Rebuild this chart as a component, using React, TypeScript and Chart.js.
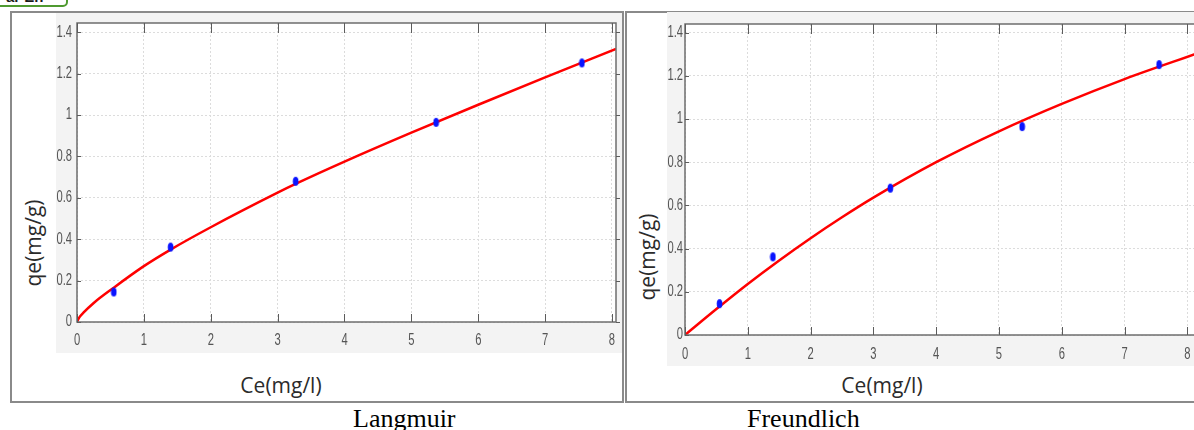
import React, { useEffect, useRef } from 'react';
import { Chart, registerables } from 'chart.js';

Chart.register(...registerables);

// ---- data ----
const ceMeasured = [0.55, 1.4, 3.27, 5.37, 7.55];
const qeMeasured = [0.145, 0.362, 0.68, 0.965, 1.252];

const langmuirFitCe = [0, 0.03, 0.1, 0.25, 0.55, 1, 1.4, 2, 3, 3.3, 4, 5, 6, 7, 8.06];
const langmuirFitQe = [0, 0.02, 0.046, 0.092, 0.166, 0.27, 0.35, 0.458, 0.625, 0.672, 0.775, 0.915, 1.05, 1.182, 1.32];

const freundlichFitCe = [0, 0.5, 1, 1.5, 2, 2.5, 3, 4, 5, 6, 7, 8.17];
const freundlichFitQe = [0, 0.12, 0.236, 0.345, 0.448, 0.545, 0.636, 0.8, 0.943, 1.07, 1.185, 1.305];

const xTickLabels = ['0', '1', '2', '3', '4', '5', '6', '7', '8'];
const yTickLabels = ['0', '0.2', '0.4', '0.6', '0.8', '1', '1.2', '1.4'];

const xTitle = 'Ce(mg/l)';
const yTitle = 'qe(mg/g)';

const TICK_FONT = "16px 'Liberation Sans', Arial, sans-serif";

type PlotProps = {
  left: number;
  top: number;
  width: number;
  height: number;
  padTop: number;
  padRight: number;
  yAxisW: number;
  xAxisH: number;
  xMax: number;
  yMax: number;
  fitCe: number[];
  fitQe: number[];
  xLabelOffset: number;
  yLabelGap: number;
};

function makeEllipse(): HTMLCanvasElement {
  const c = document.createElement('canvas');
  c.width = 7;
  c.height = 11;
  const g = c.getContext('2d')!;
  g.fillStyle = '#0a14ff';
  g.beginPath();
  g.ellipse(3.5, 5.5, 2.8, 4.6, 0, 0, Math.PI * 2);
  g.fill();
  return c;
}

function Plot(p: PlotProps) {
  const ref = useRef<HTMLCanvasElement | null>(null);
  useEffect(() => {
    if (!ref.current) return;
    const marker = makeEllipse();
    const framePlugin = {
      id: 'frame',
      beforeDraw(chart: any) {
        const { ctx, chartArea: a } = chart;
        ctx.save();
        ctx.fillStyle = '#ffffff';
        ctx.fillRect(a.left, a.top, a.right - a.left, a.bottom - a.top);
        ctx.restore();
      },
      afterDraw(chart: any) {
        const { ctx, chartArea: a } = chart;
        const xs = chart.scales.x;
        const ys = chart.scales.y;
        ctx.save();
        ctx.strokeStyle = '#6e6e6e';
        ctx.lineWidth = 1.5;
        ctx.strokeRect(a.left, a.top, a.right - a.left, a.bottom - a.top);
        ctx.strokeStyle = '#5c5c5c';
        ctx.lineWidth = 1;
        ctx.beginPath();
        xs.ticks.forEach((t: any) => {
          const px = Math.round(xs.getPixelForValue(t.value)) + 0.5;
          ctx.moveTo(px, a.bottom);
          ctx.lineTo(px, a.bottom - 8);
          ctx.moveTo(px, a.top);
          ctx.lineTo(px, a.top + 10);
        });
        ys.ticks.forEach((t: any) => {
          const py = Math.round(ys.getPixelForValue(t.value)) + 0.5;
          ctx.moveTo(a.left, py);
          ctx.lineTo(a.left + 4, py);
          ctx.moveTo(a.right, py);
          ctx.lineTo(a.right + 4, py);
        });
        ctx.stroke();

        // condensed tick labels
        ctx.fillStyle = '#555555';
        ctx.font = TICK_FONT;
        ctx.textBaseline = 'middle';
        xs.ticks.forEach((t: any, i: number) => {
          const px = xs.getPixelForValue(t.value);
          ctx.save();
          ctx.translate(px, a.bottom + p.xLabelOffset);
          ctx.scale(0.7, 1);
          ctx.textAlign = 'center';
          ctx.fillText(xTickLabels[i], 0, 0);
          ctx.restore();
        });
        ys.ticks.forEach((t: any, i: number) => {
          const py = ys.getPixelForValue(t.value);
          ctx.save();
          ctx.translate(a.left - p.yLabelGap, py);
          ctx.scale(0.7, 1);
          ctx.textAlign = 'right';
          ctx.fillText(yTickLabels[i], 0, 0);
          ctx.restore();
        });
        ctx.restore();
      },
    };
    const chart = new Chart(ref.current, {
      type: 'scatter',
      data: {
        datasets: [
          {
            data: ceMeasured.map((x, i) => ({ x, y: qeMeasured[i] })),
            pointStyle: marker as any,
            pointRadius: 5,
            showLine: false,
            backgroundColor: '#0a14ff',
            borderColor: '#0a14ff',
          },
          {
            data: p.fitCe.map((x, i) => ({ x, y: p.fitQe[i] })),
            showLine: true,
            pointRadius: 0,
            borderColor: '#ff0000',
            borderWidth: 2.5,
            cubicInterpolationMode: 'monotone',
          } as any,
        ],
      },
      options: {
        animation: false,
        responsive: false,
        maintainAspectRatio: false,
        layout: { padding: { top: p.padTop, right: p.padRight, left: 0, bottom: 0 } },
        plugins: { legend: { display: false }, tooltip: { enabled: false } },
        events: [],
        scales: {
          x: {
            type: 'linear',
            min: 0,
            max: p.xMax,
            afterFit: (s: any) => {
              s.height = p.xAxisH;
            },
            border: { display: false, dash: [2, 2] },
            grid: { color: '#dcdcdc', drawTicks: false, lineWidth: 1 },
            ticks: {
              display: false,
              stepSize: 1,
              includeBounds: false,
              autoSkip: false,
            },
          },
          y: {
            type: 'linear',
            min: 0,
            max: p.yMax,
            afterFit: (s: any) => {
              s.width = p.yAxisW;
            },
            border: { display: false, dash: [2, 2] },
            grid: { color: '#dcdcdc', drawTicks: false, lineWidth: 1 },
            ticks: {
              display: false,
              stepSize: 0.2,
              includeBounds: false,
              autoSkip: false,
            },
          },
        },
      },
      plugins: [framePlugin],
    } as any);
    return () => chart.destroy();
  }, []);
  return (
    <canvas
      ref={ref}
      width={p.width}
      height={p.height}
      style={{
        position: 'absolute',
        left: p.left,
        top: p.top,
        width: p.width,
        height: p.height,
        background: '#f3f3f3',
      }}
    />
  );
}

const titleFont = "'Open Sans', 'Noto Sans', sans-serif";

function XTitle({ cx, cy }: { cx: number; cy: number }) {
  return (
    <div
      style={{
        position: 'absolute',
        left: cx,
        top: cy,
        transform: 'translate(-50%, -50%)',
        fontFamily: titleFont,
        fontSize: 21,
        color: '#2b2b2b',
        whiteSpace: 'nowrap',
        lineHeight: 1,
      }}
    >
      {xTitle}
    </div>
  );
}

function YTitle({ cx, cy }: { cx: number; cy: number }) {
  return (
    <div
      style={{
        position: 'absolute',
        left: cx,
        top: cy,
        transform: 'translate(-50%, -50%) rotate(-90deg)',
        fontFamily: titleFont,
        fontSize: 21,
        color: '#2b2b2b',
        whiteSpace: 'nowrap',
        lineHeight: 1,
      }}
    >
      {yTitle}
    </div>
  );
}

export default function App() {
  return (
    <div
      style={{
        position: 'absolute',
        left: 0,
        top: 0,
        width: 1194,
        height: 430,
        overflow: 'hidden',
        background: '#ffffff',
      }}
    >
      {/* green tab at top-left */}
      <div
        style={{
          position: 'absolute',
          left: -10,
          top: -22,
          width: 74,
          height: 25,
          border: '2px solid #4f9a30',
          borderRadius: 5,
          background: '#ffffff',
          overflow: 'hidden',
        }}
      >
        <div
          style={{
            position: 'absolute',
            left: 14,
            top: 9,
            fontFamily: "'Liberation Sans', Arial, sans-serif",
            fontWeight: 'bold',
            fontSize: 15,
            color: '#1a1a1a',
            lineHeight: 1,
          }}
        >
          ar En
        </div>
      </div>

      {/* left panel (Langmuir) */}
      <div
        style={{
          position: 'absolute',
          left: 10,
          top: 11,
          width: 610,
          height: 388,
          border: '2px solid #8a8a8a',
        }}
      />
      <Plot
        left={56}
        top={13}
        width={566}
        height={340}
        padTop={10}
        padRight={5}
        yAxisW={21}
        xAxisH={31}
        xMax={8.06}
        yMax={1.445}
        fitCe={langmuirFitCe}
        fitQe={langmuirFitQe}
        xLabelOffset={19}
        yLabelGap={5}
      />
      <XTitle cx={281} cy={385} />
      <YTitle cx={33} cy={243} />

      {/* right panel (Freundlich) */}
      <div
        style={{
          position: 'absolute',
          left: 625,
          top: 11,
          width: 600,
          height: 388,
          border: '2px solid #8a8a8a',
        }}
      />
      <Plot
        left={667}
        top={12}
        width={537}
        height={354}
        padTop={12}
        padRight={4}
        yAxisW={18}
        xAxisH={31}
        xMax={8.17}
        yMax={1.44}
        fitCe={freundlichFitCe}
        fitQe={freundlichFitQe}
        xLabelOffset={20}
        yLabelGap={2}
      />
      <XTitle cx={882} cy={385} />
      <YTitle cx={647} cy={257} />

      {/* captions */}
      <div
        style={{
          position: 'absolute',
          left: 353,
          top: 404,
          fontFamily: "'Liberation Serif', 'Times New Roman', serif",
          fontSize: 26,
          color: '#000',
          whiteSpace: 'nowrap',
          lineHeight: 1.15,
        }}
      >
        Langmuir
      </div>
      <div
        style={{
          position: 'absolute',
          left: 747,
          top: 404,
          fontFamily: "'Liberation Serif', 'Times New Roman', serif",
          fontSize: 26,
          color: '#000',
          whiteSpace: 'nowrap',
          lineHeight: 1.15,
        }}
      >
        Freundlich
      </div>
    </div>
  );
}
